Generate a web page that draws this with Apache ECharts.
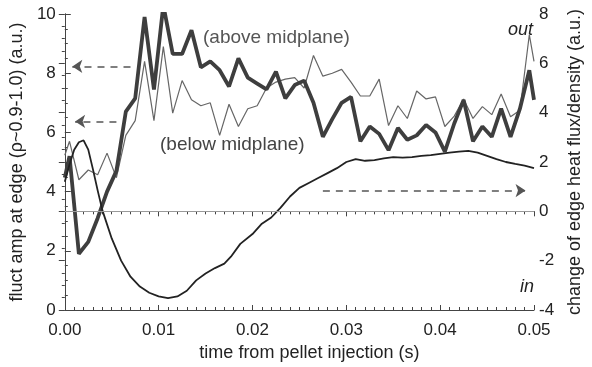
<!DOCTYPE html>
<html>
<head>
<meta charset="utf-8">
<script src="https://cdn.jsdelivr.net/npm/echarts@6/dist/echarts.min.js"></script>
<style>html,body{margin:0;padding:0;background:#fff;}#c{width:592px;height:367px;}</style>
</head>
<body>
<div id="c"></div>
<script>
// time grid for fluctuation amplitudes (s)
const tFluct = [0, 0.0005, 0.0015, 0.0025, 0.0035, 0.0045, 0.0055, 0.0065, 0.0075, 0.0085, 0.0095,
  0.0105, 0.0115, 0.0125, 0.0135, 0.0145, 0.0155, 0.0165, 0.0175, 0.0185, 0.0195,
  0.0205, 0.0215, 0.0225, 0.0235, 0.0245, 0.0255, 0.0265, 0.0275, 0.0285, 0.0295,
  0.0305, 0.0315, 0.0325, 0.0335, 0.0345, 0.0355, 0.0365, 0.0375, 0.0385, 0.0395,
  0.0405, 0.0415, 0.0425, 0.0435, 0.0445, 0.0455, 0.0465, 0.0475, 0.0485, 0.0495, 0.05];
// above midplane (thick)
const aboveMid = [4.47, 5.2, 1.9, 2.3, 3.1, 4.0, 4.7, 6.7, 7.15, 9.9, 7.45,
  10.3, 8.65, 8.65, 9.45, 8.2, 8.4, 8.1, 7.55, 8.5, 7.85,
  7.65, 7.45, 8.05, 7.15, 7.6, 7.75, 7.0, 5.85, 6.45, 7.0,
  7.2, 5.7, 6.2, 5.95, 5.4, 6.15, 5.75, 5.9, 6.25, 6.0,
  5.35, 6.3, 7.1, 5.7, 6.2, 5.85, 6.8, 5.85, 6.8, 8.1, 7.1];
// below midplane (thin)
const belowMid = [5.23, 5.7, 4.4, 4.73, 4.57, 5.3, 4.47, 5.9, 6.4, 8.4, 6.4,
  8.9, 6.65, 7.75, 7.1, 6.9, 7.0, 5.9, 6.95, 6.2, 6.8,
  6.9, 7.5, 7.7, 7.8, 7.85, 7.5, 8.6, 7.9, 8.0, 8.13,
  7.7, 7.23, 7.23, 7.8, 6.23, 6.9, 6.47, 7.4, 7.13, 7.2,
  6.2, 6.55, 7.13, 6.47, 6.87, 6.6, 7.3, 6.53, 6.75, 9.3, 8.4];
// change of edge heat flux / density (right axis)
const tFlux = [0, 0.0005, 0.001, 0.0015, 0.002, 0.0025, 0.003, 0.0035, 0.004, 0.005,
  0.006, 0.007, 0.008, 0.009, 0.010, 0.011, 0.012, 0.013, 0.014, 0.015,
  0.016, 0.017, 0.0177, 0.0187, 0.020, 0.021, 0.022, 0.023, 0.024, 0.025,
  0.026, 0.027, 0.028, 0.029, 0.030, 0.031, 0.032, 0.033, 0.034, 0.035,
  0.036, 0.037, 0.038, 0.039, 0.040, 0.041, 0.042, 0.043, 0.044, 0.045,
  0.046, 0.047, 0.048, 0.049, 0.050];
const fluxChange = [1.2, 1.9, 2.5, 2.8, 2.88, 2.5, 1.7, 0.85, 0.05, -1.1,
  -2.0, -2.65, -3.05, -3.3, -3.45, -3.52, -3.45, -3.22, -2.8, -2.52,
  -2.3, -2.12, -1.84, -1.32, -0.92, -0.5, -0.25, 0.15, 0.6, 0.95,
  1.15, 1.35, 1.55, 1.75, 2.0, 2.12, 2.05, 2.08, 2.15, 2.2,
  2.18, 2.2, 2.25, 2.28, 2.33, 2.38, 2.42, 2.45, 2.38, 2.25,
  2.12, 2.0, 1.92, 1.85, 1.75];
const xTicks = {min: 0, max: 0.05, interval: 0.01};
const leftTicks = {min: 0, max: 10, interval: 2};
const rightTicks = {min: -4, max: 8, interval: 2};

const pair = (xs, ys) => xs.map((x, i) => [x, ys[i]]);
const FONT = 'Liberation Sans, Arial, Helvetica, sans-serif';
const axisCol = '#444';
const labelStyle = {color: '#222', fontSize: 17, fontFamily: FONT};
const titleStyle = {color: '#222', fontSize: 18, fontFamily: FONT};

const chart = echarts.init(document.getElementById('c'));
chart.setOption({
  animation: false,
  backgroundColor: '#fff',
  grid: {left: 62, right: 47, top: 14, bottom: 53},
  xAxis: [{
    type: 'value', min: xTicks.min, max: xTicks.max, interval: xTicks.interval, position: 'bottom',
    axisLine: {show: true, lineStyle: {color: axisCol, width: 1}},
    axisTick: {show: true, inside: true, length: 5, lineStyle: {color: axisCol}},
    minorTick: {show: true, splitNumber: 10, length: 3, lineStyle: {color: axisCol}},
    splitLine: {show: false},
    axisLabel: Object.assign({margin: 12, formatter: v => v.toFixed(2)}, labelStyle),
    name: 'time from pellet injection (s)', nameLocation: 'middle', nameGap: 34,
    nameTextStyle: Object.assign({padding: [0, 0, 0, 20]}, titleStyle)
  }, {
    type: 'value', min: xTicks.min, max: xTicks.max, interval: xTicks.interval, position: 'top',
    axisLine: {show: true, lineStyle: {color: axisCol, width: 1}},
    axisTick: {show: true, inside: true, length: 5, lineStyle: {color: axisCol}},
    minorTick: {show: true, splitNumber: 10, length: 3, lineStyle: {color: axisCol}},
    splitLine: {show: false}, axisLabel: {show: false}
  }],
  yAxis: [{
    type: 'value', min: leftTicks.min, max: leftTicks.max, interval: leftTicks.interval, position: 'left',
    axisLine: {show: true, lineStyle: {color: axisCol, width: 1}},
    axisTick: {show: true, inside: true, length: 6, lineStyle: {color: axisCol}},
    minorTick: {show: true, splitNumber: 4, length: 3, lineStyle: {color: axisCol}},
    splitLine: {show: false},
    axisLabel: Object.assign({margin: 9}, labelStyle),
    name: 'fluct amp at edge (\u03c1~0.9-1.0) (a.u.)', nameLocation: 'middle', nameGap: 27,
    nameTextStyle: titleStyle
  }, {
    type: 'value', min: rightTicks.min, max: rightTicks.max, interval: rightTicks.interval, position: 'right',
    axisLine: {show: true, lineStyle: {color: axisCol, width: 1}},
    axisTick: {show: true, inside: true, length: 6, lineStyle: {color: axisCol}},
    minorTick: {show: true, splitNumber: 4, length: 3, lineStyle: {color: axisCol}},
    splitLine: {show: false},
    axisLabel: Object.assign({margin: 5}, labelStyle),
    name: 'change of edge heat flux/density (a.u.)', nameLocation: 'middle', nameGap: 32,
    nameTextStyle: titleStyle
  }],
  series: [{
    name: 'zero', type: 'line', yAxisIndex: 1, data: [], silent: true,
    markLine: {
      silent: true, symbol: ['none', 'none'], label: {show: false},
      lineStyle: {color: '#999', width: 1, type: 'solid'},
      data: [{yAxis: 0}]
    }
  }, {
    name: 'below midplane', type: 'line', data: pair(tFluct, belowMid), showSymbol: false,
    lineStyle: {color: '#666', width: 1.2}, clip: true
  }, {
    name: 'above midplane', type: 'line', data: pair(tFluct, aboveMid), showSymbol: false,
    lineStyle: {color: '#3e3e3e', width: 3.8}, clip: true,
    markLine: {
      silent: true, symbol: ['none', 'arrow'], symbolSize: 10, label: {show: false},
      lineStyle: {color: '#555', width: 1.5, type: [7, 6]},
      data: [
        [{coord: [0.0070, 8.23]}, {coord: [0.0008, 8.23]}],
        [{coord: [0.0055, 6.37]}, {coord: [0.0011, 6.37]}]
      ]
    }
  }, {
    name: 'heat flux/density', type: 'line', yAxisIndex: 1, data: pair(tFlux, fluxChange), showSymbol: false,
    lineStyle: {color: '#222', width: 1.8}, clip: true,
    markLine: {
      silent: true, symbol: ['none', 'arrow'], symbolSize: 10, label: {show: false},
      lineStyle: {color: '#555', width: 1.5, type: [7, 6]},
      data: [[{coord: [0.0275, 0.84]}, {coord: [0.0491, 0.84]}]]
    }
  }],
  graphic: [
    {type: 'text', left: 203, top: 28, style: {text: '(above midplane)', fill: '#555', font: '19px ' + FONT}},
    {type: 'text', left: 160, top: 135, style: {text: '(below midplane)', fill: '#444', font: '19px ' + FONT}},
    {type: 'text', left: 508, top: 21, style: {text: 'out', fill: '#222', font: 'italic 18px ' + FONT}},
    {type: 'text', left: 520, top: 278, style: {text: 'in', fill: '#222', font: 'italic 18px ' + FONT}}
  ]
});
</script>
</body>
</html>
